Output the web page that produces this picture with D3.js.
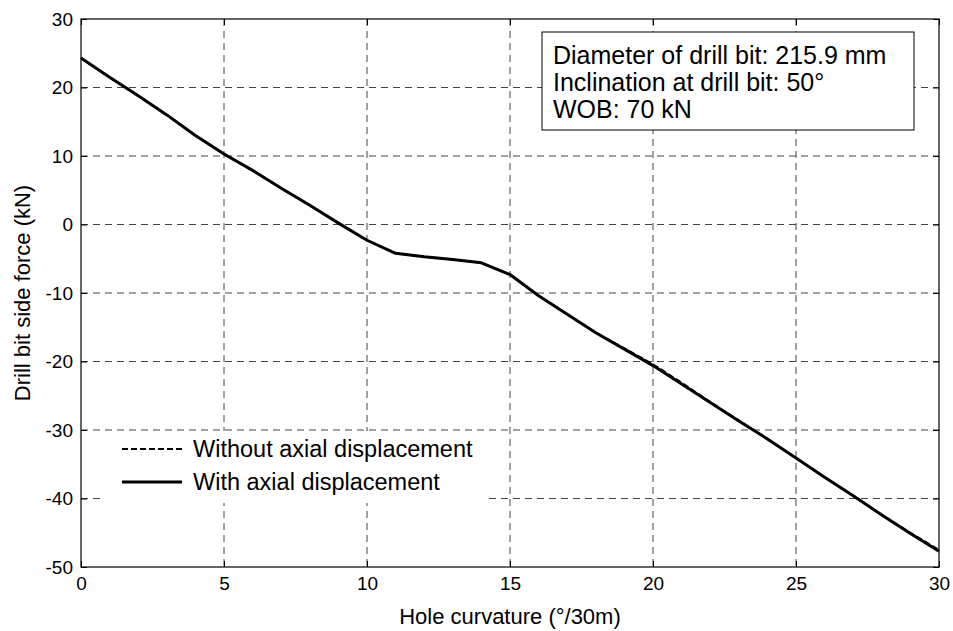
<!DOCTYPE html>
<html>
<head>
<meta charset="utf-8">
<script src="https://cdn.jsdelivr.net/npm/d3@7"></script>
<style>
  body { margin: 0; background: #fff; }
  text { font-family: "Liberation Sans", Arial, sans-serif; fill: #000; }
</style>
</head>
<body>
<script>
// hole curvature (deg/30m)
var curvature = [0, 1, 2, 3, 4, 5, 6, 7, 8, 9, 10, 11, 12, 13, 14, 15, 16, 17, 18, 19, 20,
  21, 22, 23, 24, 25, 26, 27, 28, 29, 30]
// side force, with axial displacement (kN)
var withAxial = [24.3, 21.5, 18.8, 16.0, 13.0, 10.3, 7.9, 5.3, 2.8, 0.2, -2.3,
  -4.2, -4.7, -5.1, -5.6, -7.3, -10.4, -13.1, -15.8, -18.2, -20.6,
  -23.3, -26.0, -28.7, -31.3, -34.1, -36.9, -39.6, -42.4, -45.1, -47.7]
// side force, without axial displacement (kN)
var withoutAxial = [24.3, 21.5, 18.8, 16.0, 13.0, 10.3, 7.9, 5.3, 2.8, 0.2, -2.3,
  -4.2, -4.7, -5.1, -5.6, -7.3, -10.4, -13.1, -15.8, -18.1, -20.4,
  -23.1, -25.9, -28.6, -31.3, -34.1, -36.9, -39.6, -42.4, -45.0, -47.5]
var xTicks = [0, 5, 10, 15, 20, 25, 30]
var yTicks = [30, 20, 10, 0, -10, -20, -30, -40, -50]
var infoLines = ["Diameter of drill bit: 215.9 mm", "Inclination at drill bit: 50°", "WOB: 70 kN"]
var legendLabels = ["Without axial displacement", "With axial displacement"]

var W = 953, H = 631
var m = {left: 81, top: 19, right: 14, bottom: 64}
var iw = W - m.left - m.right, ih = H - m.top - m.bottom

var svg = d3.select("body").append("svg")
    .attr("width", W)
    .attr("height", H)

var g = svg.append("g").attr("transform", "translate(" + m.left + "," + m.top + ")")

var x = d3.scaleLinear().domain([0, 30]).range([0, iw])
var y = d3.scaleLinear().domain([-50, 30]).range([ih, 0])

// grid
g.append("g").selectAll("line")
    .data(xTicks.slice(1, -1))
    .enter().append("line")
    .attr("x1", function(d) { return x(d) }).attr("x2", function(d) { return x(d) })
    .attr("y1", 0).attr("y2", ih)
    .style("stroke", "#444").style("stroke-dasharray", "7,5")
g.append("g").selectAll("line")
    .data(yTicks.slice(1, -1))
    .enter().append("line")
    .attr("y1", function(d) { return y(d) }).attr("y2", function(d) { return y(d) })
    .attr("x1", 0).attr("x2", iw)
    .style("stroke", "#444").style("stroke-dasharray", "7,5")

// axes with inward ticks, plain hyphen for negatives
var fmt = function(d) { return String(d) }
var tk = 6
var xAxis = g.append("g").attr("transform", "translate(0," + ih + ")")
    .call(d3.axisBottom(x).tickValues(xTicks).tickFormat(fmt).tickSizeInner(-tk).tickSizeOuter(0).tickPadding(10))
var yAxis = g.append("g")
    .call(d3.axisLeft(y).tickValues(yTicks).tickFormat(fmt).tickSizeInner(-tk).tickSizeOuter(0).tickPadding(8))
g.append("g")
    .call(d3.axisTop(x).tickValues(xTicks).tickSizeInner(-tk).tickSizeOuter(0).tickFormat(""))
g.append("g").attr("transform", "translate(" + iw + ",0)")
    .call(d3.axisRight(y).tickValues(yTicks).tickSizeInner(-tk).tickSizeOuter(0).tickFormat(""))
g.selectAll(".domain").remove()
g.selectAll(".tick line").style("stroke", "#000")
xAxis.selectAll("text").style("font-size", "19px").attr("dy", "0.71em")
yAxis.selectAll("text").style("font-size", "19px")

// lines
var line = d3.line()
    .x(function(d, i) { return x(curvature[i]) })
    .y(function(d) { return y(d) })

g.append("path")
    .attr("d", line(withoutAxial))
    .style("fill", "none").style("stroke", "#000").style("stroke-width", 2)
    .style("stroke-dasharray", "6,3")
g.append("path")
    .attr("d", line(withAxial))
    .style("fill", "none").style("stroke", "#000").style("stroke-width", 3)
    .style("stroke-linejoin", "round")

// legend
var lg = svg.append("g")
lg.append("rect")
    .attr("x", 103).attr("y", 431).attr("width", 384).attr("height", 72)
    .style("fill", "#fff")
var legRows = [
  {y: 449, dash: "6,3", w: 2},
  {y: 482, dash: null, w: 3}
]
legRows.forEach(function(r, i) {
  lg.append("line")
      .attr("x1", 122).attr("x2", 182).attr("y1", r.y).attr("y2", r.y)
      .style("stroke", "#000").style("stroke-width", r.w)
      .style("stroke-dasharray", r.dash)
  lg.append("text")
      .attr("x", 193).attr("y", r.y).attr("dy", "0.35em")
      .style("font-size", "23.5px")
      .text(legendLabels[i])
})

// info box
var ib = svg.append("g")
ib.append("rect")
    .attr("x", 542).attr("y", 32).attr("width", 372).attr("height", 98)
    .style("fill", "#fff").style("stroke", "#000").style("stroke-width", 1)
ib.selectAll("text")
    .data(infoLines)
    .enter().append("text")
    .attr("x", 553)
    .attr("y", function(d, i) { return 64 + i * 27 })
    .style("font-size", "25px")
    .text(function(d) { return d })

// frame
g.append("rect")
    .attr("width", iw).attr("height", ih)
    .style("fill", "none").style("stroke", "#000").style("stroke-width", 1.2)

// axis titles
svg.append("text")
    .attr("x", m.left + iw / 2).attr("y", 624)
    .attr("text-anchor", "middle")
    .style("font-size", "22px")
    .text("Hole curvature (°/30m)")
svg.append("text")
    .attr("transform", "translate(30," + (m.top + ih / 2) + ") rotate(-90)")
    .attr("text-anchor", "middle")
    .style("font-size", "22px")
    .text("Drill bit side force (kN)")
</script>
</body>
</html>
